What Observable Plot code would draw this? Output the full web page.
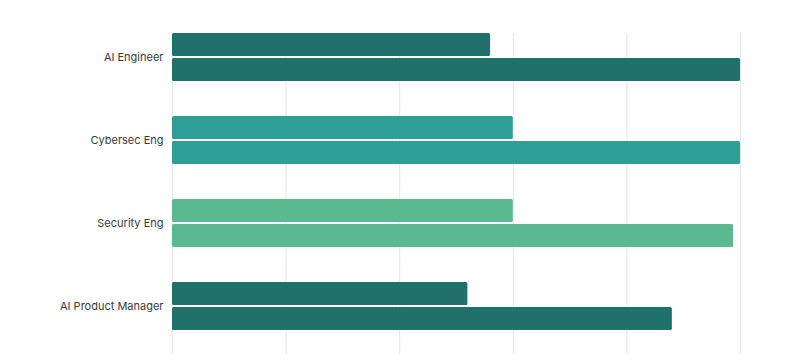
<!DOCTYPE html>
<html>
<head>
<meta charset="utf-8">
<script src="https://cdn.jsdelivr.net/npm/d3@7"></script>
<script src="https://cdn.jsdelivr.net/npm/@observablehq/plot@0.6"></script>
<style>
  html, body { margin: 0; padding: 0; background: #fff; overflow: hidden; }
  #chart { width: 800px; height: 354px; }
</style>
</head>
<body>
<div id="chart"></div>
<script>
const roles = ["AI Engineer", "Cybersec Eng", "Security Eng", "AI Product Manager"];
const minValues = [140, 150, 150, 130];
const maxValues = [250, 250, 247, 220];
const roleColors = ["#20716b", "#2e9f97", "#5ab98f", "#20716b"];
const xTicks = [0, 50, 100, 150, 200, 250];

const minData = roles.map((r, i) => ({role: r, value: minValues[i]}));
const maxData = roles.map((r, i) => ({role: r, value: maxValues[i]}));

const chart = Plot.plot({
  width: 800,
  height: 354,
  marginTop: 33,
  marginBottom: 0,
  marginLeft: 172,
  marginRight: 60,
  style: {fontFamily: "Inter, sans-serif", fontSize: "11px", color: "#3a3a3a", background: "#fff"},
  x: {domain: [0, 250], axis: null},
  y: {domain: roles, paddingInner: 0.424, paddingOuter: 0.139, align: 0, label: null},
  color: {domain: roles, range: roleColors},
  marks: [
    Plot.ruleX(xTicks, {stroke: "#e6e6e6", strokeWidth: 1}),
    Plot.barX(minData, {y: "role", x: "value", fill: "role", insetBottom: 25, rx: 1.5}),
    Plot.barX(maxData, {y: "role", x: "value", fill: "role", insetTop: 25, rx: 1.5}),
    Plot.axisY({tickSize: 0, tickPadding: 9, fill: "#3a3a3a", fontSize: 11})
  ]
});
document.getElementById("chart").appendChild(chart);
</script>
</body>
</html>
